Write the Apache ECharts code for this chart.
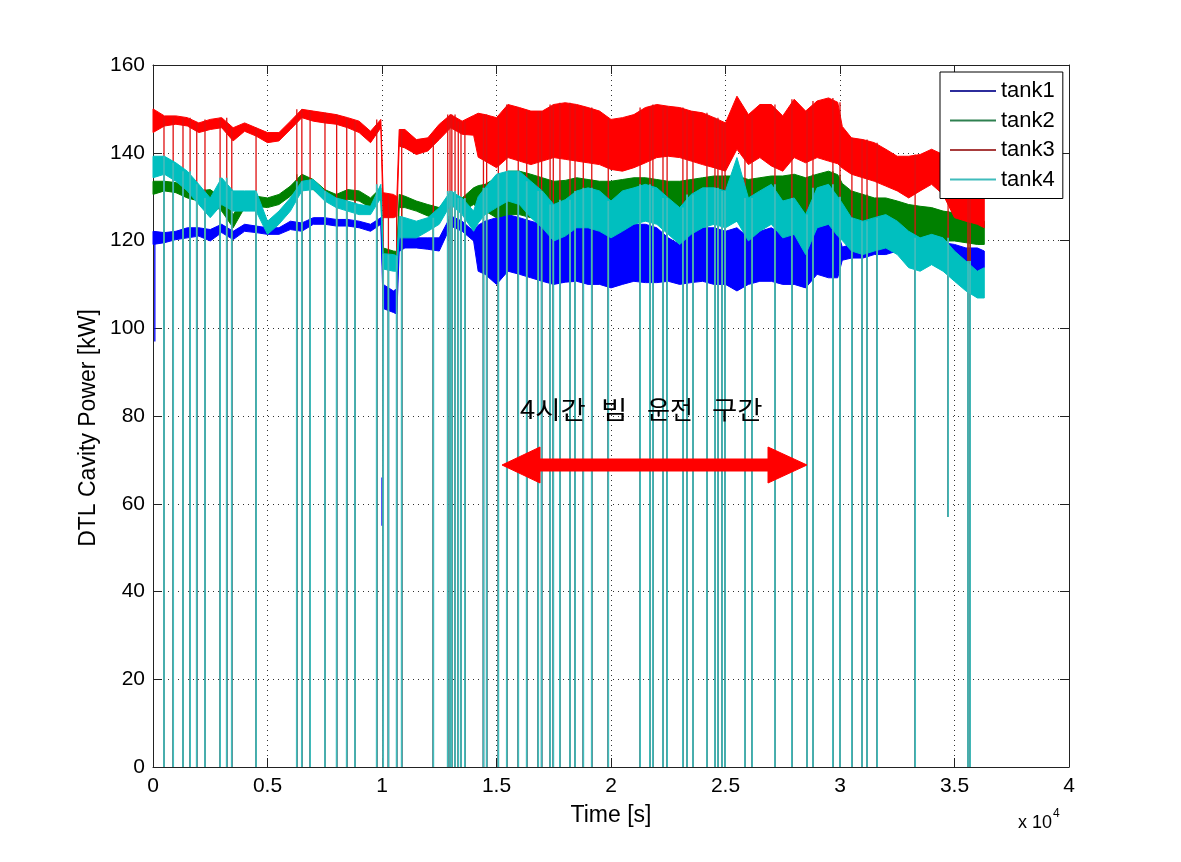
<!DOCTYPE html>
<html>
<head>
<meta charset="utf-8">
<script src="https://cdn.jsdelivr.net/npm/echarts@6/dist/echarts.min.js"></script>
<style>html,body{margin:0;padding:0;background:#fff}#c{width:1181px;height:862px}</style>
</head>
<body>
<div id="c"></div>
<script>
// Knot times [s]
const T = [0,500,1000,1500,2000,2500,3000,3500,4000,4500,5000,5500,6000,6500,7000,7500,8000,8500,9000,9500,
  9950,10050,10500,10650,10750,11000,11500,12000,12500,13000,13500,14000,14200,14500,
  15000,15500,16000,16500,17000,17500,18000,18500,19000,19500,20000,20500,21000,21500,22000,22500,
  23000,23500,24000,24500,25000,25500,26000,26500,27000,27500,28000,28500,29000,29500,29900,30100,
  30500,31000,31500,32000,32500,33000,33500,34000,34500,35000,35500,36000,36300];

// upper / lower envelope of each trace [kW]
const tank1Hi = [122.1,121.8,122.1,122.9,122.9,122.5,123.7,122.1,123.7,123.3,122.9,122.9,124.4,124.0,125.2,125.2,124.8,124.8,124.4,123.7,
  125.2,110.0,108.5,109.0,121.0,121.4,120.6,120.6,120.6,125.6,124.4,122.1,123.5,124.4,
  125.2,125.9,125.2,124.4,123.7,122.1,122.1,122.9,123.7,122.9,122.1,122.9,123.7,123.7,122.9,120.6,
  119.1,122.9,122.9,122.9,122.1,122.9,120.6,122.1,122.9,121.4,121.4,117.6,122.9,123.7,122.0,118.5,
  119.1,119.1,119.1,119.5,119.9,121.4,121.4,119.9,119.5,119.1,118.3,118.3,117.6];
const tank1Lo = [119.1,119.5,120.2,120.6,121.0,119.9,121.8,120.2,122.1,121.8,121.4,121.4,122.5,122.1,123.7,123.7,123.3,123.3,122.9,122.1,
  123.7,104.5,103.6,103.2,117.5,118.3,118.3,118.0,117.6,123.3,122.1,119.9,113.0,112.3,
  110.0,113.0,112.3,111.5,110.7,110.0,110.5,110.7,110.0,110.0,109.2,110.0,110.7,110.4,110.4,110.7,
  110.0,110.4,110.7,110.0,110.0,108.5,110.0,110.7,110.7,110.0,110.0,109.2,112.3,111.5,111.5,115.5,
  116.0,116.0,116.8,116.8,117.6,119.1,119.1,117.6,116.8,116.0,114.5,113.0,113.8];

const tank2Hi = [133.5,133.5,133.2,132.0,131.3,131.6,129.7,125.9,129.7,130.1,129.7,130.5,132.4,135.1,133.9,131.6,130.5,131.6,131.3,129.7,
  132.0,118.3,117.6,117.5,130.5,130.1,129.0,128.2,127.5,130.5,129.7,132.0,132.5,132.8,
  134.3,135.8,135.8,135.1,134.3,133.5,133.7,134.3,133.9,133.5,133.5,133.9,134.3,134.3,133.9,133.5,
  133.5,133.9,134.3,134.7,134.7,134.7,133.9,134.3,134.7,134.7,135.1,134.3,135.1,135.8,135.0,133.0,
  131.3,130.5,129.7,129.7,129.0,128.2,127.8,127.5,126.7,126.3,125.6,125.2,124.4];
const tank2Lo = [130.5,131.3,130.9,129.7,129.0,128.6,126.7,122.9,127.5,127.8,127.5,128.2,130.1,132.8,131.6,129.4,128.6,129.4,129.0,127.5,
  129.7,115.0,114.5,114.5,127.5,127.5,126.7,125.6,124.8,128.2,126.7,128.2,127.5,126.7,
  125.2,125.9,125.9,125.2,125.2,124.4,124.8,125.2,124.4,123.7,122.9,123.7,124.4,125.2,125.2,124.4,
  124.4,124.4,125.2,125.2,125.2,124.4,123.7,124.0,124.4,123.7,123.7,122.9,123.7,124.4,124.8,125.0,
  123.7,122.9,122.1,122.1,121.4,121.4,120.6,120.6,119.9,119.9,119.5,119.1,119.1];

const tank3Hi = [150.0,148.4,148.4,148.0,146.8,147.6,148.0,145.7,146.8,145.7,144.6,144.6,147.2,149.9,149.5,149.1,148.7,148.0,147.2,144.9,
  147.6,130.9,130.5,130.0,145.3,145.3,143.0,143.4,146.5,148.7,147.2,148.5,149.0,148.7,
  148.0,151.0,150.3,149.5,149.5,151.0,151.4,151.0,150.3,149.5,147.6,148.0,148.7,150.3,151.0,150.6,
  150.3,149.5,149.1,148.0,146.8,152.9,148.7,151.0,151.0,148.4,152.2,149.5,151.8,152.5,151.5,146.0,
  143.4,143.0,142.3,140.8,139.2,139.2,139.6,140.8,139.6,137.3,136.6,135.8,135.1];
const tank3Lo = [144.6,146.1,146.5,146.1,144.6,145.3,145.7,142.7,144.9,143.8,142.3,142.7,145.3,148.0,147.2,146.8,146.5,145.7,144.6,142.3,
  145.7,125.2,125.2,125.5,141.5,141.1,139.6,140.4,143.0,145.7,144.2,144.0,139.0,138.1,
  136.6,138.9,138.1,137.3,138.1,138.9,138.5,138.1,137.7,137.3,136.2,135.8,136.6,137.7,138.9,139.2,
  138.9,138.1,137.3,136.6,135.8,140.8,137.3,138.9,137.0,135.8,138.9,137.7,138.9,138.1,137.5,136.5,
  135.1,134.3,133.5,132.4,131.3,129.7,131.3,132.8,130.5,125.2,124.4,123.7,122.9];

const tank4Hi = [139.2,139.2,137.7,135.8,132.8,129.7,134.3,131.3,131.3,131.3,124.4,126.7,129.7,133.5,133.9,131.3,129.7,129.0,128.2,127.8,
  132.8,117.0,116.8,116.5,125.5,125.2,124.4,125.2,127.5,131.3,129.7,126.7,130.0,132.0,
  135.1,135.8,135.8,133.5,131.3,128.2,129.3,131.3,132.0,131.3,129.0,131.3,132.0,132.8,132.0,129.7,
  127.5,130.5,132.0,132.0,131.3,138.9,129.7,131.3,132.8,129.0,129.7,125.9,132.0,132.8,130.0,128.5,
  125.2,124.4,125.2,125.9,124.4,122.1,120.6,121.4,120.6,117.6,115.3,113.0,113.8];
const tank4Lo = [134.3,135.1,133.5,131.3,128.2,125.2,128.2,126.7,126.7,126.7,121.4,123.7,126.7,131.3,131.6,129.0,127.5,126.7,125.9,125.9,
  129.7,113.5,113.0,113.0,120.6,120.6,120.6,122.1,123.7,128.2,125.9,122.1,124.0,125.9,
  127.5,129.0,128.2,125.2,122.9,119.9,121.0,122.9,122.9,122.1,120.6,122.1,123.7,124.4,123.7,121.4,
  119.1,121.4,122.9,123.7,122.9,124.4,119.9,122.1,123.7,120.6,121.4,116.8,122.9,123.7,121.0,120.0,
  117.6,116.8,117.6,118.3,116.8,113.8,113.0,114.5,113.0,110.7,108.5,106.9,106.9];

// beam trips: times [s] where the traces fall to zero
const tripT = [480,880,1310,1620,1910,2270,2930,3220,3440,4500,6280,6500,6860,7510,8020,8460,8820,9770,10050,10280,10640,10860,
  12240,12870,12970,13050,13190,13330,13450,13620,14430,14570,15080,15450,15950,16320,16820,16970,17340,17480,17770,18210,18430,
  18790,19160,19880,21270,21700,21830,22270,22450,23140,23320,23580,24190,24540,24670,24850,24980,25850,26160,27160,27900,
  28560,28820,29690,30000,30520,30960,31180,31620,33280,35590,35680];
// partial drop (time, lowest value)
const partialT = [34720];
const partialFloor = [57];
// short tank1 dips: time, top, bottom
const tank1DipT = [80, 10000];
const tank1DipTop = [120, 66];
const tank1DipBottom = [97, 55];

const xTicks = ['0','0.5','1','1.5','2','2.5','3','3.5','4'];
const names = ['tank1','tank2','tank3','tank4'];
const colors = ['#0000ff','#008000','#ff0000','#00bfbf'];
const tripColors = ['#0000ff','#008000','#e01010','#3fbcbc'];
const his = [tank1Hi, tank2Hi, tank3Hi, tank4Hi];
const los = [tank1Lo, tank2Lo, tank3Lo, tank4Lo];

function nearestIdx(t){
  let best = 0, bd = Infinity;
  for (let i = 0; i < T.length; i++){ const d = Math.abs(T[i]-t); if (d < bd){bd = d; best = i;} }
  return best;
}

const series = [];
for (let k = 0; k < 4; k++){
  const hi = his[k], lo = los[k], col = colors[k];
  series.push({
    type:'custom', name:names[k], coordinateSystem:'cartesian2d', silent:true,
    data:[[0,0]], encode:{x:0,y:1}, itemStyle:{color:col},
    renderItem:function(params, api){
      const pts = [];
      for (let i = 0; i < T.length; i++) pts.push(api.coord([T[i], hi[i]]));
      for (let i = T.length-1; i >= 0; i--) pts.push(api.coord([T[i], lo[i]]));
      return {type:'polygon', shape:{points:pts}, style:{fill:col, stroke:col, lineWidth:1}};
    }
  });
  const tripData = tripT.map(t => [t, 0, NaN]).concat(partialT.map((t,i) => [t, partialFloor[i], NaN]));
  if (k === 0) tank1DipT.forEach((t,i) => tripData.push([t, tank1DipBottom[i], tank1DipTop[i]]));
  series.push({
    type:'custom', name:names[k], coordinateSystem:'cartesian2d', silent:true,
    data:tripData, encode:{x:0,y:1}, itemStyle:{color:col},
    renderItem:function(params, api){
      const t = api.value(0), f = api.value(1), top = api.value(2);
      const v = isNaN(top) ? hi[nearestIdx(t)] : top;
      const p1 = api.coord([t, v]), p2 = api.coord([t, f]);
      return {type:'line', shape:{x1:p1[0], y1:p1[1], x2:p2[0], y2:p2[1]},
        style:{stroke:tripColors[k], lineWidth: k === 3 ? 1.8 : 1.3}};
    }
  });
}

const FONT = 'Liberation Sans, Arial, sans-serif';
const KFONT = 'Noto Sans CJK KR';
const chart = echarts.init(document.getElementById('c'));
chart.setOption({
  animation:false,
  backgroundColor:'#fff',
  grid:{left:153, right:112, top:65, bottom:95},
  legend:{
    orient:'vertical', left:940, top:72, icon:'rect', itemWidth:46, itemHeight:2, itemGap:7.5,
    padding:[8,8,8,10], borderColor:'#000', borderWidth:1, backgroundColor:'#fff',
    textStyle:{fontSize:22, fontFamily:FONT, color:'#000'},
    data:[
      {name:'tank1', itemStyle:{color:'#2c2c9c'}},
      {name:'tank2', itemStyle:{color:'#2e8050'}},
      {name:'tank3', itemStyle:{color:'#a83c3c'}},
      {name:'tank4', itemStyle:{color:'#40bcbc'}}
    ],
    selectedMode:false, z:10
  },
  xAxis:[{
    type:'value', min:0, max:40000, interval:5000, position:'bottom',
    axisLine:{show:true, onZero:false, lineStyle:{color:'#222', width:1}},
    axisTick:{show:true, inside:true, length:9, lineStyle:{color:'#222'}},
    axisLabel:{formatter:function(v){return xTicks[Math.round(v/5000)];}, fontSize:21, fontFamily:FONT, color:'#000', margin:9},
    splitLine:{show:true, lineStyle:{type:[1,4], color:'#333', width:1}},
    name:'Time [s]', nameLocation:'middle', nameGap:37, nameTextStyle:{fontSize:23, fontFamily:FONT, color:'#000'}
  },{
    type:'value', min:0, max:40000, interval:5000, position:'top',
    axisLine:{show:true, onZero:false, lineStyle:{color:'#222', width:1}},
    axisTick:{show:true, inside:true, length:9, lineStyle:{color:'#222'}},
    axisLabel:{show:false}, splitLine:{show:false}
  }],
  yAxis:[{
    type:'value', min:0, max:160, interval:20, position:'left',
    axisLine:{show:true, onZero:false, lineStyle:{color:'#222', width:1}},
    axisTick:{show:true, inside:true, length:9, lineStyle:{color:'#222'}},
    axisLabel:{fontSize:21, fontFamily:FONT, color:'#000', margin:8},
    splitLine:{show:true, lineStyle:{type:[1,4], color:'#333', width:1}}
  },{
    type:'value', min:0, max:160, interval:20, position:'right',
    axisLine:{show:true, onZero:false, lineStyle:{color:'#222', width:1}},
    axisTick:{show:true, inside:true, length:9, lineStyle:{color:'#222'}},
    axisLabel:{show:false}, splitLine:{show:false}
  }],
  series:series,
  graphic:[
    {type:'text', x:89, y:428, rotation:Math.PI/2, z:20, style:{text:'DTL Cavity Power [kW]', fontSize:23, fontFamily:FONT, fill:'#000', verticalAlign:'middle', align:'center'}},
    {type:'text', x:520, y:409, scaleX:1.1, z:20, style:{text:'4시간', fontSize:25, fontFamily:KFONT, fill:'#000', verticalAlign:'middle', align:'left'}},
    {type:'text', x:601, y:409, scaleX:1.15, z:20, style:{text:'빔', fontSize:25, fontFamily:KFONT, fill:'#000', verticalAlign:'middle', align:'left'}},
    {type:'text', x:647, y:409, scaleX:1.0, z:20, style:{text:'운전', fontSize:25, fontFamily:KFONT, fill:'#000', verticalAlign:'middle', align:'left'}},
    {type:'text', x:712, y:409, scaleX:1.1, z:20, style:{text:'구간', fontSize:25, fontFamily:KFONT, fill:'#000', verticalAlign:'middle', align:'left'}},
    {type:'polygon', z:20, shape:{points:[[502,465],[540,447],[540,459],[768,459],[768,447],[807,465],[768,483],[768,471],[540,471],[540,483]]},
      style:{fill:'#ff0000', stroke:'#ff0000', lineWidth:1}},
    {type:'text', x:1018, y:808, z:20, style:{text:'{a|x 10}{b|4}', rich:{
      a:{fontSize:18, fontFamily:FONT, fill:'#000', lineHeight:24, verticalAlign:'bottom'},
      b:{fontSize:12, fontFamily:FONT, fill:'#000', verticalAlign:'top', padding:[0,0,0,1]}}}}
  ]
});
</script>
</body>
</html>
